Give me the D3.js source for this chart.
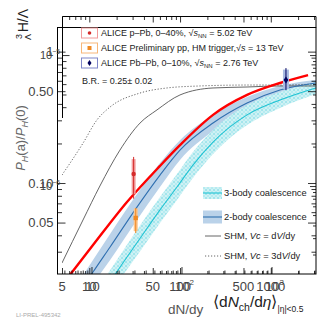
<!DOCTYPE html>
<html><head><meta charset="utf-8">
<script src="https://cdn.jsdelivr.net/npm/d3@7"></script>
<style>
body{margin:0;background:#fff}
svg{display:block}
text{font-family:"Liberation Sans",Arial,sans-serif}
</style>
</head><body>
<svg id="c" width="327" height="326"></svg>
<script>
// ---------------- data ----------------
// model curves: x = <dNch/deta>, y = P_H(a)/P_H(0)
const redX  = [5.77, 10.4, 24.8, 57.7, 96.2, 224, 535, 1242, 2546];
const redP  = [0.0200, 0.0337, 0.0717, 0.135, 0.194, 0.330, 0.468, 0.577, 0.663];

const twoBodyX   = [7.45, 10.4, 16.1, 32.0, 57.7, 96.2, 224, 535, 1242, 3100];
const twoBodyP   = [0.0148, 0.0210, 0.0326, 0.0656, 0.115, 0.178, 0.286, 0.406, 0.510, 0.577];
const twoBodyHi  = [0.0183, 0.0259, 0.0409, 0.0824, 0.142, 0.212, 0.330, 0.451, 0.548, 0.608];
const twoBodyLo  = [0.0120, 0.0170, 0.0259, 0.0523, 0.0933, 0.150, 0.249, 0.366, 0.475, 0.548];

const threeBodyX  = [14.1, 18.2, 35.5, 57.7, 89.1, 134, 224, 535, 1242, 3100];
const threeBodyP  = [0.0153, 0.0200, 0.0388, 0.0624, 0.0933, 0.137, 0.205, 0.330, 0.428, 0.529];
const threeBodyHi = [0.0189, 0.0246, 0.0488, 0.0782, 0.117, 0.172, 0.253, 0.392, 0.493, 0.587];
const threeBodyLo = [0.0124, 0.0162, 0.0309, 0.0497, 0.0743, 0.109, 0.166, 0.276, 0.372, 0.475];

const shmX  = [4.70, 8.05, 12.4, 20.7, 34.6, 53.4, 96.2, 224, 535, 1242, 3100];
const shmP  = [0.0246, 0.0523, 0.0949, 0.178, 0.286, 0.360, 0.468, 0.529, 0.538, 0.548, 0.548];
const shm3X = [4.70, 8.05, 11.5, 16.1, 34.6, 69.0, 161, 535, 1242, 3100];
const shm3P = [0.115, 0.201, 0.302, 0.379, 0.484, 0.529, 0.548, 0.557, 0.557, 0.567];

// data points: [x, y, statLo, statHi, sysLo, sysHi]
const pPbPoint  = [29.4, 0.117, 0.076, 0.158, 0.082, 0.152];
const ppPoint   = [31.0, 0.0542, 0.0416, 0.0646, 0.0430, 0.0640];
const PbPbPoint = [1447, 0.608, 0.510, 0.749, 0.520, 0.730];

// axis tick labels
const xLabelsB = [5, 10, 50, 100, 500, 1000];          // dN/dy
const xLabelsA = [10, 100, 1000];                      // <dNch/deta>
const xLabelsAExp = ["", "2", "3"];
const yLabelsA = [0.05, 0.1, 0.5, 1];
const yLabelsAText = ["0.05", "0.10", "0.50", "1"];
const yLabelsB = [1e-6, 1e-5];
const yLabelsBExp = ["\u22126", "\u22125"];

// ---------------- scales ----------------
const svg = d3.select("#c");
const xA = d3.scaleLog().domain([4.14, 3120]).range([57, 316]);
const yA = d3.scaleLog().domain([0.0203, 1.54]).range([274, 27]);
const xB = d3.scaleLog().domain([5, 3150]).range([62, 316]);
const yB = d3.scaleLog().domain([2.13e-7, 1.97e-5]).range([274, 16.5]);

const defs = svg.append("defs");
defs.append("clipPath").attr("id", "clip").append("rect")
  .attr("x", 62).attr("y", 27).attr("width", 254).attr("height", 247);
const pat = defs.append("pattern").attr("id", "hatch")
  .attr("width", 4).attr("height", 4).attr("patternUnits", "userSpaceOnUse");
pat.append("rect").attr("width", 4).attr("height", 4).attr("fill", "#e6f8fa");
pat.append("path").attr("d", "M0,0L4,4M4,0L0,4M2,0L2,4M0,2L4,2")
  .attr("stroke", "#8ee0e8").attr("stroke-width", 0.55);

function logTicks(lo, hi) {
  const out = [];
  for (let e = Math.floor(Math.log10(lo)) - 1; e <= Math.ceil(Math.log10(hi)); e++) {
    for (let m = 1; m <= 9; m++) {
      const v = m * Math.pow(10, e);
      if (v >= lo * 1.0001 && v <= hi * 0.9999) out.push(v);
    }
  }
  return out;
}

// ---------------- bands and curves ----------------
const plot = svg.append("g").attr("clip-path", "url(#clip)");

const zip = (xs, ...cols) => xs.map((x, i) => [x, ...cols.map(c => c[i])]);

const area = d3.area().curve(d3.curveMonotoneX)
  .x(d => xA(d[0])).y0(d => yA(d[1])).y1(d => yA(d[2]));
const line = d3.line().curve(d3.curveMonotoneX)
  .x(d => xA(d[0])).y(d => yA(d[1]));

plot.append("path").datum(zip(twoBodyX, twoBodyLo, twoBodyHi))
  .attr("d", area).attr("fill", "#bad2e9");
plot.append("path").datum(zip(threeBodyX, threeBodyLo, threeBodyHi))
  .attr("d", area).attr("fill", "url(#hatch)");

plot.append("path").datum(zip(shm3X, shm3P)).attr("d", line)
  .attr("fill", "none").attr("stroke", "#555").attr("stroke-width", 0.9)
  .attr("stroke-dasharray", "1.2,1.8");
plot.append("path").datum(zip(shmX, shmP)).attr("d", line)
  .attr("fill", "none").attr("stroke", "#555").attr("stroke-width", 0.9);
plot.append("path").datum(zip(threeBodyX, threeBodyP)).attr("d", line)
  .attr("fill", "none").attr("stroke", "#1fc3d3").attr("stroke-width", 1.1);
plot.append("path").datum(zip(twoBodyX, twoBodyP)).attr("d", line)
  .attr("fill", "none").attr("stroke", "#2f6fb0").attr("stroke-width", 1.1);
plot.append("path").datum(zip(redX, redP)).attr("d", line)
  .attr("fill", "none").attr("stroke", "#ff0000").attr("stroke-width", 2.4);

// ---------------- frames ----------------
const fr = svg.append("g").attr("stroke", "#000").attr("stroke-width", 1).attr("fill", "none");
fr.append("rect").attr("x", 57.5).attr("y", 27.5).attr("width", 258.5).attr("height", 246.5);
fr.append("path").attr("d", "M62.5,118V16.5H316V27.5");

function ticks(axisFn, scale, tr, vals, len) {
  const g = svg.append("g").attr("transform", tr)
    .call(axisFn(scale).tickValues(vals).tickSize(-len).tickFormat(""));
  g.select(".domain").remove();
  g.selectAll("line").attr("stroke", "#000").attr("stroke-width", 0.8);
}
const minA_x = logTicks(4.14, 3120).filter(v => !xLabelsA.includes(v));
const minB_x = logTicks(5, 3150).filter(v => !xLabelsB.includes(v));
const minA_y = logTicks(0.0203, 1.54).filter(v => !yLabelsA.includes(v));
const minB_y = logTicks(2.13e-7, 1.97e-5).filter(v => !yLabelsB.includes(v));

ticks(d3.axisBottom, xA, "translate(0,274)", xLabelsA, 7);
ticks(d3.axisBottom, xA, "translate(0,274)", minA_x, 3.5);
ticks(d3.axisBottom, xB, "translate(0,274)", xLabelsB, 6);
ticks(d3.axisBottom, xB, "translate(0,274)", minB_x, 3);
ticks(d3.axisTop, xB, "translate(0,16.5)", xLabelsB, 6);
ticks(d3.axisTop, xB, "translate(0,16.5)", minB_x, 3.5);
ticks(d3.axisLeft, yA, "translate(57.5,0)", yLabelsA, 8);
ticks(d3.axisLeft, yA, "translate(57.5,0)", minA_y, 4.5);
ticks(d3.axisLeft, yB, "translate(62.5,0)", yLabelsB.filter(v => yB(v) < 118), 7);
ticks(d3.axisLeft, yB, "translate(62.5,0)", minB_y.filter(v => yB(v) < 118), 4);
ticks(d3.axisRight, yA, "translate(316,0)", yLabelsA, 8);
ticks(d3.axisRight, yA, "translate(316,0)", minA_y, 4.5);
ticks(d3.axisRight, yB, "translate(316,0)", yLabelsB, 6);
ticks(d3.axisRight, yB, "translate(316,0)", minB_y, 3);

// ---------------- data points ----------------
function drawPoint(p, col, sysCol, sysW, shape) {
  const g = svg.append("g");
  const x = xA(p[0]);
  g.append("rect").attr("x", x - sysW / 2).attr("width", sysW)
    .attr("y", yA(p[5])).attr("height", yA(p[4]) - yA(p[5])).attr("fill", sysCol);
  g.append("line").attr("x1", x).attr("x2", x).attr("y1", yA(p[2])).attr("y2", yA(p[3]))
    .attr("stroke", col).attr("stroke-width", 1);
  const y = yA(p[1]);
  if (shape === "circle") g.append("circle").attr("cx", x).attr("cy", y).attr("r", 2.2).attr("fill", col);
  else if (shape === "square") g.append("rect").attr("x", x - 2.2).attr("y", y - 2.2).attr("width", 4.4).attr("height", 4.4).attr("fill", col);
  else g.append("path").attr("d", `M${x},${y - 3.5}L${x + 2.4},${y}L${x},${y + 3.5}L${x - 2.4},${y}Z`).attr("fill", col);
}
drawPoint(pPbPoint, "#d42a2a", "#f2a0a0", 4, "circle");
drawPoint(ppPoint, "#f08a24", "#f9c48e", 4, "square");
drawPoint(PbPbPoint, "#00005e", "#a9bce3", 6, "diamond");

// ---------------- axis labels ----------------
const lab = svg.append("g").attr("fill", "#444").attr("font-size", 13);
xLabelsB.forEach(v => lab.append("text").attr("x", xB(v)).attr("y", 291)
  .attr("text-anchor", "middle").text(v));
xLabelsA.forEach((v, i) => {
  const t = lab.append("text").attr("x", xA(v) + (i === 0 ? 1 : 3)).attr("y", 291).attr("text-anchor", "middle");
  t.append("tspan").text("10");
  if (xLabelsAExp[i]) t.append("tspan").attr("font-size", 8).attr("dy", -6).text(xLabelsAExp[i]);
});
yLabelsA.forEach((v, i) => lab.append("text").attr("x", 53.5).attr("y", yA(v) + 4.6)
  .attr("text-anchor", "end").text(yLabelsAText[i]));
yLabelsB.forEach((v, i) => {
  const t = lab.append("text").attr("x", 40).attr("y", yB(v) + 4).attr("font-size", 11);
  t.append("tspan").text("10");
  t.append("tspan").attr("font-size", 7).attr("dy", -5).text(yLabelsBExp[i]);
});

// x titles
svg.append("text").attr("x", 168).attr("y", 313.5).attr("font-size", 13.5).attr("fill", "#555").text("dN/dy");
const xt = svg.append("text").attr("x", 213).attr("y", 307).attr("font-size", 15.5).attr("fill", "#222");
xt.append("tspan").text("\u27E8d");
xt.append("tspan").attr("font-style", "italic").text("N");
xt.append("tspan").attr("font-size", 10.5).attr("dy", 4).text("ch");
xt.append("tspan").attr("dy", -4).text("/d");
xt.append("tspan").attr("font-style", "italic").text("\u03B7");
xt.append("tspan").text("\u27E9");
xt.append("tspan").attr("font-size", 8.5).attr("dy", 5).text("|\u03B7|<0.5");

// y titles
const yt1 = svg.append("g").attr("transform", "translate(24.5,138) rotate(-90)");
const t1 = yt1.append("text").attr("text-anchor", "middle").attr("font-size", 13).attr("fill", "#666");
t1.append("tspan").attr("font-style", "italic").text("P");
t1.append("tspan").attr("font-style", "italic").attr("font-size", 9).attr("dy", 3).text("H");
t1.append("tspan").attr("dy", -3).text("(a)/");
t1.append("tspan").attr("font-style", "italic").text("P");
t1.append("tspan").attr("font-style", "italic").attr("font-size", 9).attr("dy", 3).text("H");
t1.append("tspan").attr("dy", -3).text("(0)");

const yt2 = svg.append("g").attr("transform", "translate(28,9) rotate(-90)");
yt2.append("text").attr("text-anchor", "end").attr("font-size", 14).attr("fill", "#222").text("H/\u039B");
yt2.append("text").attr("x", -25).attr("y", -6).attr("text-anchor", "end").attr("font-size", 9).attr("fill", "#222").text("3");
yt2.append("text").attr("x", -25).attr("y", 3).attr("text-anchor", "end").attr("font-size", 9).attr("fill", "#222").text("\u039B");

// ---------------- top-left legend ----------------
const leg1 = [
  {cy: 33, box: "#f19a9a", col: "#d42a2a", shape: "circle",
   segs: [["ALICE p\u2013Pb, 0\u201340%, \u221A"], ["s", "i"], ["NN", "sub"], [" = 5.02 TeV", "up"]]},
  {cy: 48, box: "#f7b77a", col: "#f08a24", shape: "square",
   segs: [["ALICE Preliminary pp, HM trigger,\u221A"], ["s", "i"], [" = 13 TeV"]]},
  {cy: 63, box: "#7f86c8", col: "#00005e", shape: "diamond",
   segs: [["ALICE Pb\u2013Pb, 0\u201310%, \u221A"], ["s", "i"], ["NN", "sub"], [" = 2.76 TeV", "up"]]}
];
leg1.forEach(e => {
  svg.append("rect").attr("x", 81.5).attr("y", e.cy - 5).attr("width", 16).attr("height", 10)
    .attr("fill", "none").attr("stroke", e.box).attr("stroke-width", 1);
  const x = 89.5, y = e.cy;
  if (e.shape === "circle") svg.append("circle").attr("cx", x).attr("cy", y).attr("r", 1.8).attr("fill", e.col);
  else if (e.shape === "square") svg.append("rect").attr("x", x - 2).attr("y", y - 2).attr("width", 4).attr("height", 4).attr("fill", e.col);
  else svg.append("path").attr("d", `M${x},${y - 3}L${x + 2},${y}L${x},${y + 3}L${x - 2},${y}Z`).attr("fill", e.col);
  const t = svg.append("text").attr("x", 101).attr("y", e.cy + 3.3).attr("font-size", 9).attr("fill", "#222");
  e.segs.forEach(s => {
    const ts = t.append("tspan").text(s[0]);
    if (s[1] === "i") ts.attr("font-style", "italic");
    if (s[1] === "sub") ts.attr("font-size", 6).attr("dy", 2);
    if (s[1] === "up") ts.attr("dy", -2);
  });
});
svg.append("text").attr("x", 82).attr("y", 84).attr("font-size", 9).attr("fill", "#222").text("B.R. = 0.25\u00B1 0.02");

// ---------------- bottom-right legend ----------------
svg.append("rect").attr("x", 203).attr("y", 187).attr("width", 19).attr("height", 12).attr("fill", "url(#hatch)");
svg.append("line").attr("x1", 203).attr("x2", 222).attr("y1", 193).attr("y2", 193).attr("stroke", "#1fc3d3").attr("stroke-width", 1.1);
svg.append("rect").attr("x", 203).attr("y", 210.5).attr("width", 19).attr("height", 13).attr("fill", "#bad2e9");
svg.append("line").attr("x1", 203).attr("x2", 222).attr("y1", 217).attr("y2", 217).attr("stroke", "#2f6fb0").attr("stroke-width", 1.1);
svg.append("line").attr("x1", 205).attr("x2", 221).attr("y1", 236).attr("y2", 236).attr("stroke", "#555").attr("stroke-width", 0.9);
svg.append("line").attr("x1", 205).attr("x2", 221).attr("y1", 256).attr("y2", 256).attr("stroke", "#555").attr("stroke-width", 0.9).attr("stroke-dasharray", "1.2,1.8");

const leg2 = svg.append("g").attr("font-size", 9.3).attr("fill", "#222");
leg2.append("text").attr("x", 224).attr("y", 196.3).text("3-body coalescence");
leg2.append("text").attr("x", 224).attr("y", 220.3).text("2-body coalescence");
function shmText(y, pre) {
  const t = leg2.append("text").attr("x", 224).attr("y", y);
  t.append("tspan").text("SHM, ");
  t.append("tspan").attr("font-style", "italic").text("Vc");
  t.append("tspan").text(" = " + pre + "d");
  t.append("tspan").attr("font-style", "italic").text("V");
  t.append("tspan").text("/dy");
}
shmText(239.3, "");
shmText(259.3, "3");

// footer
svg.append("text").attr("x", 16).attr("y", 317).attr("font-size", 6)
  .attr("font-family", "DejaVu Sans Mono, monospace").attr("fill", "#aaa").text("LI-PREL-495342");
</script>
</body></html>
